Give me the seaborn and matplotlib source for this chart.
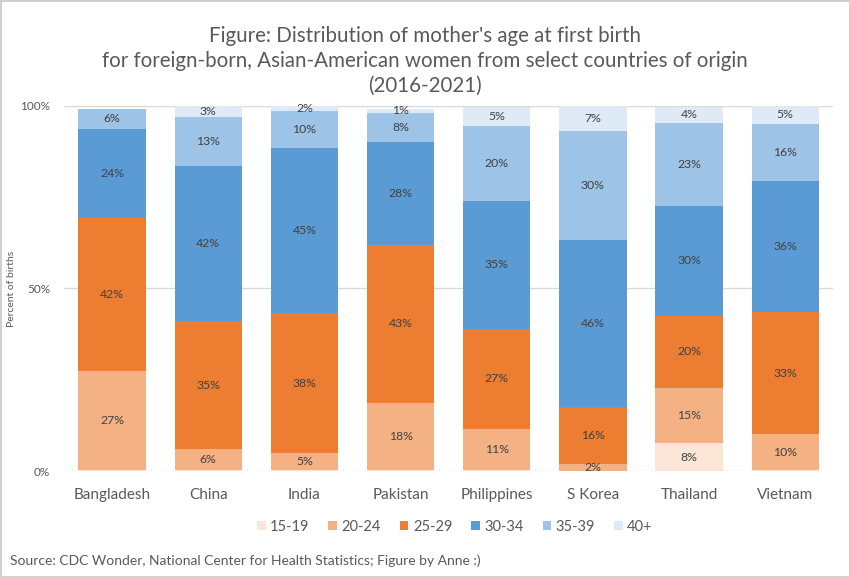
"""
Stacked 100% bar chart: mother's age at first birth, foreign-born Asian-American
women by country of origin (CDC Wonder, 2016-2021).
"""

import numpy as np
import pandas as pd
import matplotlib
matplotlib.use('Agg')
import matplotlib.pyplot as plt
import seaborn as sns
from matplotlib.patches import Patch

# ── Data (percent of births) ───────────────────────────────────────────────────
countries  = ['Bangladesh', 'China', 'India', 'Pakistan',
              'Philippines', 'S Korea', 'Thailand', 'Vietnam']
age_groups = ['15-19', '20-24', '25-29', '30-34', '35-39', '40+']

age_15_19 = [0.4, 0.2, 0.2, 0.4, 0.4, 0.1, 7.6, 0.3]
age_20_24 = [27.0, 5.8, 4.6, 18.2, 11.2, 1.8, 15.2, 9.8]
age_25_29 = [42.0, 35.1, 38.4, 43.4, 27.4, 15.6, 19.8, 33.4]
age_30_34 = [24.3, 42.4, 45.2, 28.0, 35.0, 45.8, 30.1, 36.0]
age_35_39 = [5.6, 13.4, 10.2, 8.0, 20.4, 29.9, 22.7, 15.6]
age_40_up = [0.0, 3.0, 1.6, 1.3, 5.2, 6.8, 4.4, 4.9]

colours = ['#FBE5D6', '#F4B183', '#ED7D31', '#5B9BD5', '#9DC3E6', '#DEEBF7']

TEXT_GREY = '#595959'
FONT = ['Lato', 'DejaVu Sans']


def build_frame():
    """Long-form table with a running (cumulative) top for each segment."""
    series = [age_15_19, age_20_24, age_25_29, age_30_34, age_35_39, age_40_up]
    rows = []
    for c_idx, country in enumerate(countries):
        running = 0.0
        for a_idx, age in enumerate(age_groups):
            val = series[a_idx][c_idx]
            running += val
            rows.append({'country': country, 'age': age,
                         'value': val, 'top': running})
    return pd.DataFrame(rows)


def main():
    sns.set_theme(style='white')
    plt.rcParams['font.family'] = FONT

    df = build_frame()

    fig = plt.figure(figsize=(8.5, 5.77), dpi=100)
    fig.patch.set_facecolor('white')
    fig.patch.set_edgecolor('#D0D0D0')
    fig.patch.set_linewidth(2)
    ax = fig.add_axes([0.0753, 0.1837, 0.905, 0.6326])

    # gridlines first so bars sit on top
    for y in (0, 50, 100):
        ax.axhline(y, color='#D9D9D9', lw=1, zorder=0)

    # draw cumulative tops from the last age group down, so each lower layer
    # covers the part of the bar above it
    for age, col in reversed(list(zip(age_groups, colours))):
        sub = df[df['age'] == age]
        sns.barplot(data=sub, x='country', y='top', order=countries,
                    color=col, width=0.7, saturation=1, ax=ax,
                    linewidth=0, zorder=2)

    # segment labels
    x_pos = {c: i for i, c in enumerate(countries)}
    for _, row in df.iterrows():
        if round(row['value']) >= 1:
            ax.text(x_pos[row['country']], row['top'] - row['value'] / 2,
                    f"{round(row['value'])}%", ha='center', va='center',
                    fontsize=8.8, color='#404040', zorder=3)

    ax.set_ylim(0, 100)
    ax.set_xlim(-0.5, len(countries) - 0.5)
    ax.set_yticks([0, 50, 100])
    ax.set_yticklabels(['0%', '50%', '100%'], fontsize=8.5, color=TEXT_GREY)
    ax.tick_params(axis='x', labelsize=11, labelcolor=TEXT_GREY,
                   length=0, pad=12)
    ax.tick_params(axis='y', length=0, pad=10)
    ax.set_xlabel('')
    ax.set_ylabel('Percent of births', fontsize=7.5, color=TEXT_GREY)
    ax.yaxis.set_label_coords(-0.062, 0.5)
    sns.despine(ax=ax, left=True, bottom=True)

    fig.text(0.5, 0.894,
             "Figure: Distribution of mother's age at first birth\n"
             "for foreign-born, Asian-American women from select countries of origin\n"
             "(2016-2021)",
             ha='center', va='center', fontsize=14.8, color=TEXT_GREY,
             linespacing=1.32)

    handles = [Patch(facecolor=c, edgecolor='none', label=a)
               for a, c in zip(age_groups, colours)]
    fig.legend(handles=handles, loc='center', bbox_to_anchor=(0.535, 0.087),
               ncol=6, frameon=False, fontsize=10.5, handlelength=0.6,
               handleheight=0.6, handletextpad=0.3, columnspacing=1.3,
               labelcolor=TEXT_GREY)

    fig.text(0.012, 0.028,
             'Source: CDC Wonder, National Center for Health Statistics; Figure by Anne :)',
             ha='left', va='center', fontsize=10, color=TEXT_GREY)

    fig.savefig('out.png', dpi=100, facecolor=fig.get_facecolor(),
                edgecolor=fig.get_edgecolor())
    plt.close(fig)


if __name__ == '__main__':
    main()
